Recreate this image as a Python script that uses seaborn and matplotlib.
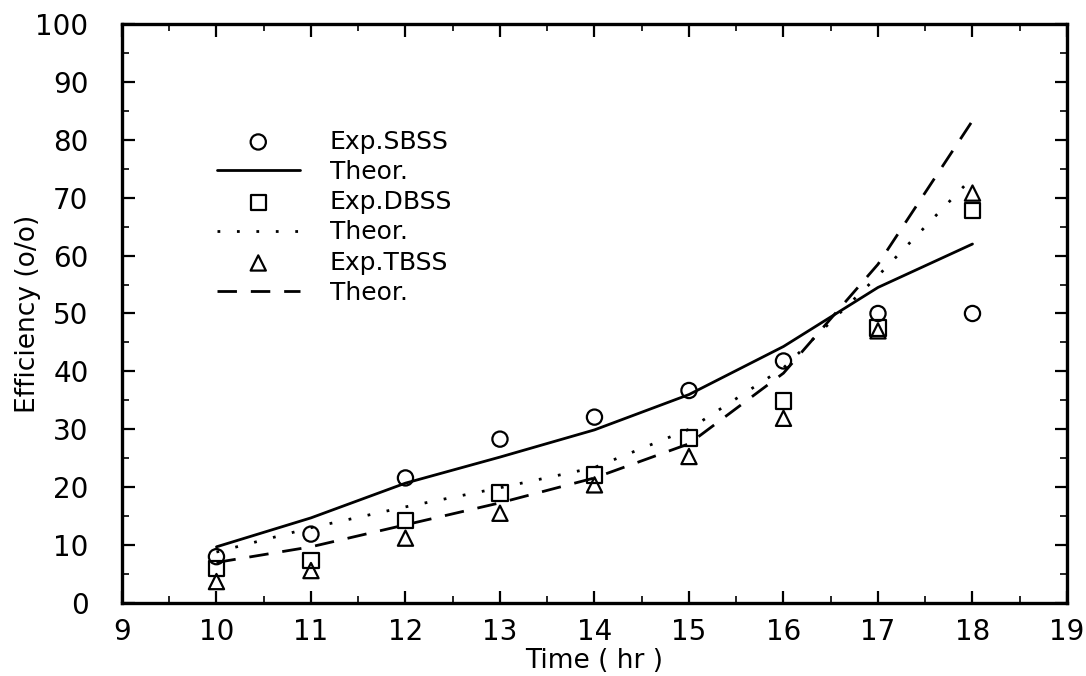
import numpy as np
import pandas as pd
import matplotlib
matplotlib.use("Agg")
import matplotlib.pyplot as plt
import seaborn as sns
from matplotlib.ticker import MultipleLocator

# ---- data ----
time = [10, 11, 12, 13, 14, 15, 16, 17, 18]
exp_sbss = [8.0, 11.9, 21.6, 28.3, 32.1, 36.7, 41.8, 50.0, 50.0]
exp_dbss = [5.9, 7.3, 14.2, 19.0, 22.1, 28.5, 34.9, 47.5, 67.8]
exp_tbss = [3.7, 5.6, 11.2, 15.5, 20.4, 25.3, 31.9, 47.0, 70.8]
theor_sbss = [9.7, 14.7, 20.7, 25.2, 29.9, 36.0, 44.3, 54.5, 62.0]
theor_dbss = [8.8, 13.0, 16.6, 19.9, 23.4, 30.0, 40.6, 56.5, 73.5]
theor_tbss = [7.0, 9.7, 13.5, 17.3, 21.6, 27.5, 39.7, 58.5, 83.3]
labels = ["Exp.SBSS", "Theor.", "Exp.DBSS", "Theor.", "Exp.TBSS", "Theor."]
xticks = list(range(9, 20))
yticks = list(range(0, 101, 10))

sns.set_theme(style="white")
plt.rcParams["font.family"] = ["DejaVu Sans"]
plt.rcParams["text.color"] = "black"
plt.rcParams["axes.labelcolor"] = "black"
plt.rcParams["xtick.color"] = "black"
plt.rcParams["ytick.color"] = "black"

fig = plt.figure(figsize=(10.86, 6.76), dpi=100)
ax = fig.add_axes([0.1123, 0.108, 0.8702, 0.8565])

ms = 120
sns.scatterplot(x=time, y=exp_sbss, marker="o", s=ms, facecolor="none",
                edgecolor="black", linewidth=1.6, label=labels[0], ax=ax, zorder=3)
sns.lineplot(x=time, y=theor_sbss, color="black", linewidth=2.0,
             label=labels[1], ax=ax)
sns.scatterplot(x=time, y=exp_dbss, marker="s", s=ms, facecolor="none",
                edgecolor="black", linewidth=1.6, label=labels[2], ax=ax, zorder=3)
sns.lineplot(x=time, y=theor_dbss, color="black", linewidth=2.0,
             label=labels[3], ax=ax)
sns.scatterplot(x=time, y=exp_tbss, marker="^", s=ms, facecolor="none",
                edgecolor="black", linewidth=1.6, label=labels[4], ax=ax, zorder=3)
sns.lineplot(x=time, y=theor_tbss, color="black", linewidth=2.0,
             label=labels[5], ax=ax)

lines = ax.get_lines()
lines[1].set_linestyle((0, (1, 6)))
lines[2].set_linestyle((0, (7, 5)))

for c in ax.collections:
    c.set_facecolor("none")
    c.set_edgecolor("black")

ax.set_xlim(9, 19)
ax.set_ylim(0, 100)
ax.set_xticks(xticks)
ax.set_yticks(yticks)
ax.xaxis.set_minor_locator(MultipleLocator(0.5))
ax.yaxis.set_minor_locator(MultipleLocator(5))
ax.tick_params(which="both", direction="in", top=True, right=True,
               bottom=True, left=True, color="black")
ax.tick_params(which="major", length=9, width=1.6)
ax.tick_params(which="minor", length=5, width=1.2)
ax.tick_params(axis="x", which="major", labelsize=20, pad=11)
ax.tick_params(axis="y", which="major", labelsize=20, pad=24)
for s in ax.spines.values():
    s.set_visible(True)
    s.set_color("black")
    s.set_linewidth(2.4)

ax.set_xlabel("Time ( hr )", fontsize=19, labelpad=1)
ax.set_ylabel("Efficiency (o/o)", fontsize=19, labelpad=-4)

handles, labs = ax.get_legend_handles_labels()
ax.legend(handles, labs, loc="upper left", bbox_to_anchor=(0.09, 0.835),
          frameon=False, fontsize=18, handlelength=3.3, handletextpad=1.2,
          labelspacing=0.25, borderaxespad=0)

fig.savefig("out.png", dpi=100)
